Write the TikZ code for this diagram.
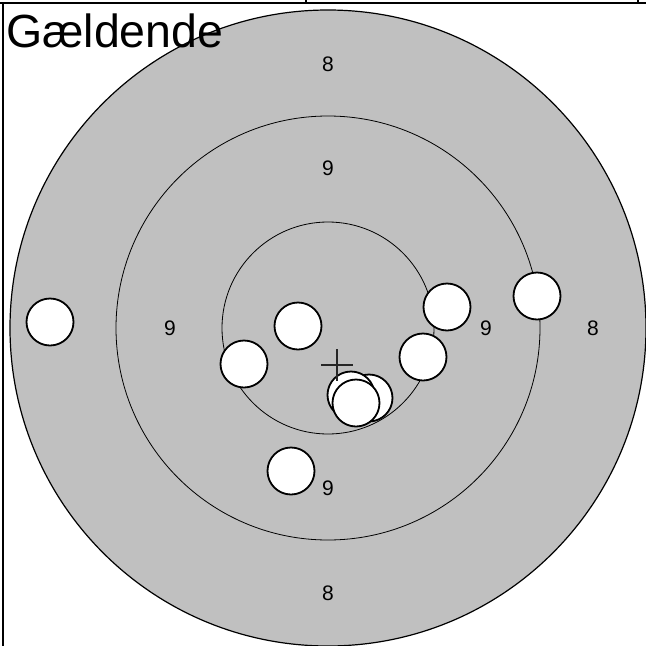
\documentclass[tikz,border=0pt]{standalone}
\usepackage{fontspec}
\setmainfont{Liberation Sans}
\usepackage{xcolor}
\usepackage{tikz}
\usetikzlibrary{calc}
\usetikzlibrary{positioning}
\definecolor{targetgray}{RGB}{192,192,192}

\begin{document}
\begin{tikzpicture}[x=1pt, y=-1pt,
  ring/.style={draw, line width=0.8pt},
  score/.style={font=\fontsize{21}{24}\selectfont, inner sep=0pt},
  shot/.style={circle, draw, line width=1.8pt, fill=white, minimum size=47pt, inner sep=0pt}]

  \useasboundingbox (0,0) rectangle (646,646);

  % frame
  \draw[line width=1.2pt] (0,3) -- (646,3);
  \draw[line width=1.2pt] (3,3) -- (3,646);
  \draw[line width=1.2pt] (306,0) -- (306,3);
  \draw[line width=1.2pt] (638,0) -- (638,3);

  % target
  \coordinate (centre) at (328,328);
  \draw[fill=targetgray, line width=1.2pt] (centre) circle (318);
  \draw[ring] (centre) circle (212);
  \draw[ring] (centre) circle (106);

  \node[anchor=base west, inner sep=0pt, font=\fontsize{46.5}{50}\selectfont] (title) at (6,47) {Gældende};

  \node[score] (top8) at (328,64.5) {8};
  \node[score] (top9) at (328,168) {9};
  \node[score] (left9) at (170,328) {9};
  \node[score] (right9) at (486,328) {9};
  \node[score] (right8) at (593,328) {8};
  \node[score] (bottom9) at (328,488) {9};
  \node[score] (bottom8) at (328,593) {8};

  % shots
  \node[shot] (s1) at (50,322) {};
  \node[shot] (s2) at (537,296) {};
  \node[shot] (s3) at (447,307) {};
  \node[shot] (s4) at (298,326) {};
  \node[shot] (s5) at (244,364) {};
  \node[shot] (s6) at (423,357) {};
  \node[shot] (s7) at (291,471) {};
  \node[shot] (s8) at (369,398) {};
  \node[shot] (s9) at (351,395) {};
  \node[shot] (s10) at (356,403) {};

  % aiming cross
  \draw[line width=1.2pt, black!85] (321,365) -- (353,365);
  \draw[line width=1.2pt, black!85] (337,349) -- (337,381);
\end{tikzpicture}
\end{document}
